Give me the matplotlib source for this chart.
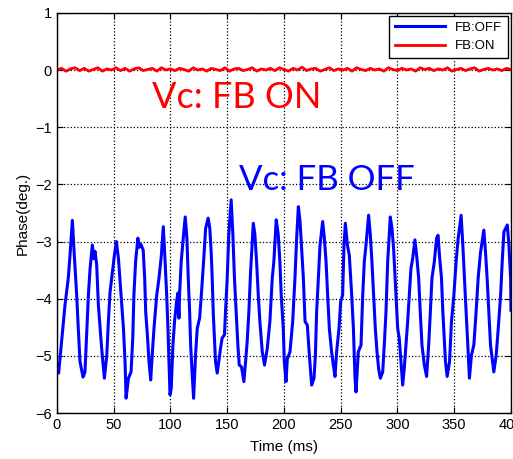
import matplotlib.pyplot as plt

# FB:OFF trace (ms, deg)
t_off = [0, 1.5, 4.1, 7.1, 10, 11.5, 13.6, 15.3, 17.4, 18.8, 20.3, 21.8, 23, 24.7,
         26.2, 27.7, 29.2, 31.2, 32.5, 33.5, 35, 36.5, 39.4, 41.8, 43.9, 45.3, 46.8,
         48.9, 50.6, 52.4, 54.2, 56.5, 58.6, 60, 60.9, 63, 65.3, 66.8, 67.8, 69.3,
         71.3, 72.5, 74, 76, 77.3, 78.2, 79.7, 81.1, 82.6, 84.1, 85.5, 87.9, 89.9,
         92, 93.7, 94.9, 96.7, 97.8, 98.7, 99.6, 100.7, 102.2, 103.6, 105.4, 106.6,
         107.5, 108, 109.5, 111, 113, 114.5, 115.7, 116.9, 117.8, 119.2, 120.4,
         122.1, 123.6, 125.7, 127.2, 129.2, 131, 133.2, 134.7, 135.9, 136.8, 137.7,
         138.8, 139.7, 141.2, 142.6, 144.1, 145.5, 147.6, 148.5, 150, 151.4, 153.5,
         155, 156.4, 157.9, 159.4, 160.6, 162.6, 164.7, 166.2, 167.6, 169.1, 170.6,
         173, 174.4, 175.9, 177.4, 178.8, 180.9, 182.9, 185.3, 187.6, 189.7, 191.1,
         193.2, 195, 196.4, 197.6, 199.4, 200.3, 201.8, 203, 205.3, 207.7, 209.7,
         211.2, 212.7, 214.2, 215.6, 217.1, 218.6, 220.6, 222.4, 224.4, 226.5,
         227.7, 228.8, 230.3, 231.8, 234.1, 235.6, 237.1, 238.5, 240, 242, 243.5,
         245, 246.4, 248.5, 250, 251.7, 252.9, 254.1, 255.9, 257.6, 259.7, 261.2,
         262.6, 263.5, 265.5, 267.9, 269.4, 270.8, 272.3, 274.6, 276.1, 277.5, 279,
         280.5, 282, 283.4, 284.9, 287, 288.4, 289.9, 291.4, 293.7, 295.2, 296.6,
         298.7, 300.2, 301.6, 303.1, 304.6, 306, 307.5, 309, 310.4, 311.9, 313.4,
         315.4, 316.9, 318.7, 320.1, 321.6, 323.7, 325.7, 327.5, 329, 330.4, 332.5,
         334.5, 335.8, 337, 338.8, 340, 341.5, 342.3, 343.8, 345.9, 347.6, 349.7,
         351.7, 353.5, 356.1, 357.6, 359, 360.5, 362, 363.4, 365.2, 367.3, 369.3,
         371.1, 373.2, 376.1, 377.6, 379, 380.5, 382, 384.9, 387, 388.8, 390.9,
         392.3, 393.8, 396.8, 398.2, 399.7, 400]
p_off = [-5.21, -5.30, -4.75, -4.11, -3.64, -3.24, -2.63, -3.24, -3.94, -4.52, -5.10,
         -5.25, -5.37, -5.28, -4.63, -3.94, -3.47, -3.06, -3.30, -3.17, -3.40, -4.11,
         -4.87, -5.39, -4.99, -4.40, -3.88, -3.53, -3.24, -3.00, -3.30, -3.94, -4.52,
         -5.10, -5.74, -5.39, -5.28, -4.69, -3.94, -3.35, -2.94, -3.10, -3.05, -3.15,
         -3.64, -4.23, -4.64, -5.10, -5.42, -4.93, -4.52, -3.94, -3.64, -3.24, -2.74,
         -3.19, -3.94, -4.52, -5.10, -5.68, -5.57, -4.81, -4.40, -4.05, -3.90, -4.34,
         -3.94, -3.35, -3.00, -2.57, -2.94, -3.64, -4.23, -4.81, -5.34, -5.74, -4.99,
         -4.52, -4.34, -3.94, -3.35, -2.77, -2.59, -2.77, -3.19, -3.64, -4.23, -4.69,
         -5.10, -5.30, -5.10, -4.87, -4.69, -4.63, -4.23, -3.64, -2.88, -2.27, -2.88,
         -3.64, -4.23, -4.81, -5.16, -5.19, -5.45, -5.10, -4.75, -4.23, -3.53, -2.68,
         -2.88, -3.35, -3.94, -4.40, -4.93, -5.16, -4.87, -4.40, -3.64, -3.35, -2.62,
         -2.88, -3.35, -3.94, -4.52, -5.10, -5.45, -5.05, -4.93, -4.40, -3.64, -2.94,
         -2.39, -2.65, -3.12, -3.64, -4.40, -4.46, -4.99, -5.51, -5.39, -4.99, -4.23,
         -3.64, -3.06, -2.65, -2.94, -3.35, -3.94, -4.52, -4.93, -5.16, -5.36, -4.93,
         -4.52, -4.05, -3.94, -3.06, -2.68, -3.06, -3.24, -3.94, -4.52, -5.39, -5.63,
         -4.93, -4.81, -3.94, -3.35, -3.06, -2.54, -2.88, -3.35, -3.94, -4.52, -4.93,
         -5.22, -5.39, -5.28, -4.81, -4.23, -3.35, -2.57, -2.77, -3.12, -3.94, -4.52,
         -4.69, -5.10, -5.51, -5.22, -4.81, -4.40, -3.94, -3.47, -3.30, -2.97, -3.24,
         -3.64, -4.23, -4.81, -5.16, -5.36, -4.81, -4.23, -3.64, -3.35, -2.94, -2.89,
         -3.24, -3.64, -4.23, -4.81, -5.10, -5.36, -5.10, -4.40, -3.94, -3.35, -2.94,
         -2.54, -3.06, -3.64, -4.23, -4.81, -5.39, -4.99, -4.81, -4.23, -3.64, -3.19,
         -2.80, -3.19, -3.64, -4.23, -4.81, -5.28, -4.99, -4.52, -3.94, -3.35, -2.83,
         -2.71, -3.06, -3.64, -4.20]

# FB:ON trace stays near zero, small jitter estimated every 4 ms
t_on = list(range(0, 401, 4))
p_on = [0.00, 0.03, -0.02, 0.02, 0.04, -0.01, 0.03, -0.02, 0.01, 0.04, -0.02,
        0.02, 0.00, 0.04, -0.01, 0.03, -0.02, 0.02, 0.04, -0.01, 0.01, 0.03,
        -0.02, 0.04, 0.00, 0.02, -0.01, 0.03, 0.01, -0.02, 0.04, 0.00, 0.02,
        -0.02, 0.03, 0.01, -0.01, 0.04, -0.02, 0.02, 0.03, -0.01, 0.01, 0.04,
        -0.02, 0.02, 0.00, 0.03, -0.01, 0.04, 0.01, -0.02, 0.03, 0.00, 0.05,
        -0.01, 0.02, 0.03, -0.02, 0.01, 0.04, -0.01, 0.02, 0.00, 0.03, -0.02,
        0.04, 0.01, -0.01, 0.03, 0.00, 0.02, -0.02, 0.04, 0.01, -0.01, 0.03,
        0.00, 0.02, -0.02, 0.04, 0.01, 0.03, -0.01, 0.02, 0.00, 0.04, -0.02,
        0.01, 0.03, -0.01, 0.02, 0.04, -0.02, 0.01, 0.03, 0.00, 0.02, -0.01,
        0.03, 0.01]

plt.rcParams['font.family'] = ['Liberation Sans', 'DejaVu Sans']

fig = plt.figure(figsize=(5.13, 4.59), dpi=100)
ax = fig.add_axes([0.111, 0.100, 0.885, 0.872])

ax.plot(t_off, p_off, color='#0000ff', lw=2.2, label='FB:OFF')
ax.plot(t_on, p_on, color='#ff0000', lw=2.0, label='FB:ON')

ax.set_xlim(0, 400)
ax.set_ylim(-6, 1)
ax.set_xticks(range(0, 401, 50))
ax.set_yticks(range(-6, 2))
ax.grid(True, color='black', linestyle=':', linewidth=0.9)
ax.tick_params(direction='in', top=True, right=True, labelsize=10.5, length=4)
for s in ax.spines.values():
    s.set_linewidth(1.0)

ax.set_xlabel('Time (ms)', fontsize=11, labelpad=6)
ax.set_ylabel('Phase(deg.)', fontsize=11)

ax.text(84, -0.48, 'Vc: FB ON', color='#ff0000', fontsize=26, family='Lato',
        va='center', ha='left')
ax.text(160, -1.93, 'Vc: FB OFF', color='#0000ff', fontsize=25, family='Lato',
        va='center', ha='left')

leg = ax.legend(loc='upper right', fontsize=9.5, fancybox=False, framealpha=1,
                edgecolor='black', borderaxespad=0.25, handlelength=3.8)
leg.get_frame().set_linewidth(1.0)

fig.savefig('out.png', dpi=100)
